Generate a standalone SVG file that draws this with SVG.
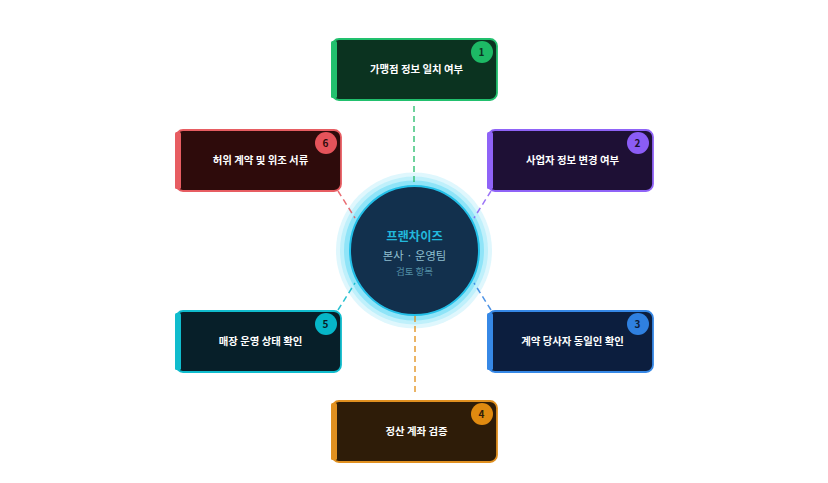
<svg xmlns="http://www.w3.org/2000/svg" width="828" height="483" viewBox="0 0 828 483">
<style>
text{font-family:"Noto Sans CJK KR","Noto Sans",sans-serif;text-anchor:middle}
.lb{font-size:10.4px;font-weight:700;fill:#fff}
.n{font-size:10px;font-weight:700}
.c{fill:none;stroke-width:1.5;stroke-dasharray:6 4;opacity:.85}
.b{stroke-width:1.8}
.bar{rx:1.5}
</style>
<rect width="828" height="483" fill="#fff"/>
<g id="hub-glow">
<circle cx="414" cy="250.500" r="78" fill="#dff7fd"/>
<circle cx="414" cy="250.500" r="74" fill="#bff0fb"/>
<circle cx="414" cy="250.500" r="70" fill="#8fe4f8"/>
</g>
<g id="connectors">
<line class="c" x1="414" y1="106" x2="414" y2="186" stroke="#1db965"/>
<line class="c" x1="491" y1="191" x2="474" y2="218" stroke="#8b5cf6"/>
<line class="c" x1="491" y1="310" x2="474" y2="283" stroke="#2f80e0"/>
<line class="c" x1="415" y1="316" x2="415" y2="395" stroke="#e08a10"/>
<line class="c" x1="338" y1="310" x2="355" y2="283" stroke="#06b6c8"/>
<line class="c" x1="338" y1="191" x2="355" y2="218" stroke="#e5535a"/>
</g>
<g id="hub">
<circle cx="414.500" cy="250.500" r="64.500" fill="#12304d" stroke="#22bfe8" stroke-width="2"/>
<text x="414.500" y="240.500" font-size="12.300" font-weight="700" fill="#22b8dc">프랜차이즈</text>
<text x="414.500" y="259.500" font-size="11.300" fill="#8fbfd0">본사 · 운영팀</text>
<text x="414.500" y="275" font-size="9.500" fill="#528fa5">검토 항목</text>
</g>
<g id="node1">
<rect class="b" x="332" y="39" width="165" height="61" rx="7" fill="#0b3320" stroke="#22c06e"/>
<rect class="bar" x="331" y="41" width="6" height="57" fill="#22c06e"/>
<circle cx="482" cy="52" r="11" fill="#1db965"/>
<text class="n" x="481.500" y="55.500" fill="#0b3320">1</text>
<text class="lb" x="416.500" y="73">가맹점 정보 일치 여부</text>
</g>
<g id="node2">
<rect class="b" x="488" y="130" width="165" height="61" rx="7" fill="#1e1035" stroke="#8f63f7"/>
<rect class="bar" x="487" y="132" width="6" height="57" fill="#8f63f7"/>
<circle cx="638" cy="143" r="11" fill="#8b5cf6"/>
<text class="n" x="637.500" y="146.500" fill="#1e1035">2</text>
<text class="lb" x="572.500" y="164">사업자 정보 변경 여부</text>
</g>
<g id="node3">
<rect class="b" x="488" y="311" width="165" height="61" rx="7" fill="#0c1e3e" stroke="#3688e6"/>
<rect class="bar" x="487" y="313" width="6" height="57" fill="#3688e6"/>
<circle cx="638" cy="324" r="11" fill="#2f80e0"/>
<text class="n" x="637.500" y="327.500" fill="#0c1e3e">3</text>
<text class="lb" x="572.500" y="345">계약 당사자 동일인 확인</text>
</g>
<g id="node4">
<rect class="b" x="332" y="401" width="165" height="61" rx="7" fill="#2e1c08" stroke="#e09020"/>
<rect class="bar" x="331" y="403" width="6" height="57" fill="#e09020"/>
<circle cx="482" cy="414" r="11" fill="#e08a10"/>
<text class="n" x="481.500" y="417.500" fill="#2e1c08">4</text>
<text class="lb" x="416.500" y="435">정산 계좌 검증</text>
</g>
<g id="node5">
<rect class="b" x="176" y="311" width="165" height="61" rx="7" fill="#071f29" stroke="#10bccd"/>
<rect class="bar" x="175" y="313" width="6" height="57" fill="#10bccd"/>
<circle cx="326" cy="324" r="11" fill="#06b6c8"/>
<text class="n" x="325.500" y="327.500" fill="#071f29">5</text>
<text class="lb" x="260.500" y="345">매장 운영 상태 확인</text>
</g>
<g id="node6">
<rect class="b" x="176" y="130" width="165" height="61" rx="7" fill="#2e0b0b" stroke="#e75d62"/>
<rect class="bar" x="175" y="132" width="6" height="57" fill="#e75d62"/>
<circle cx="326" cy="143" r="11" fill="#e5535a"/>
<text class="n" x="325.500" y="146.500" fill="#2e0b0b">6</text>
<text class="lb" x="260.500" y="164">허위 계약 및 위조 서류</text>
</g>
</svg>
